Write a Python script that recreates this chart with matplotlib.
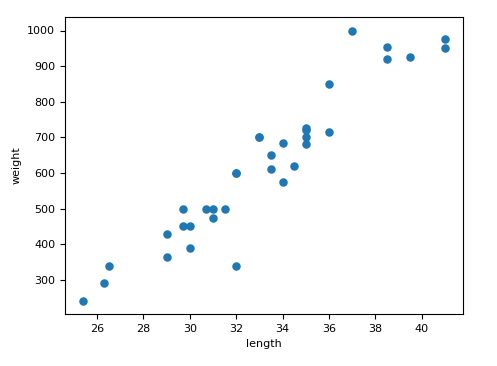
import matplotlib
matplotlib.use("Agg")
import matplotlib.pyplot as plt

length = [25.4, 26.3, 26.5, 29.0, 29.0, 29.7, 29.7, 30.0, 30.0, 30.7, 31.0, 31.0,
          31.5, 32.0, 32.0, 32.0, 33.0, 33.0, 33.5, 33.5, 34.0, 34.0, 34.5, 35.0,
          35.0, 35.0, 35.0, 36.0, 36.0, 37.0, 38.5, 38.5, 39.5, 41.0, 41.0]
weight = [242.0, 290.0, 340.0, 363.0, 430.0, 450.0, 500.0, 390.0, 450.0, 500.0,
          475.0, 500.0, 500.0, 340.0, 600.0, 600.0, 700.0, 700.0, 610.0, 650.0,
          575.0, 685.0, 620.0, 680.0, 700.0, 725.0, 720.0, 714.0, 850.0, 1000.0,
          920.0, 955.0, 925.0, 975.0, 950.0]

fig = plt.figure(figsize=(4.97, 3.66), dpi=100)
ax = fig.add_axes([65/497, 1 - 314/366, (463-65)/497, (314-17)/366])
ax.scatter(length, weight, s=26, color="#1f77b4")
ax.set_xlabel("length", fontsize=8)
ax.set_ylabel("weight", fontsize=8)
ax.tick_params(labelsize=8)
fig.savefig("out.png", dpi=100)
